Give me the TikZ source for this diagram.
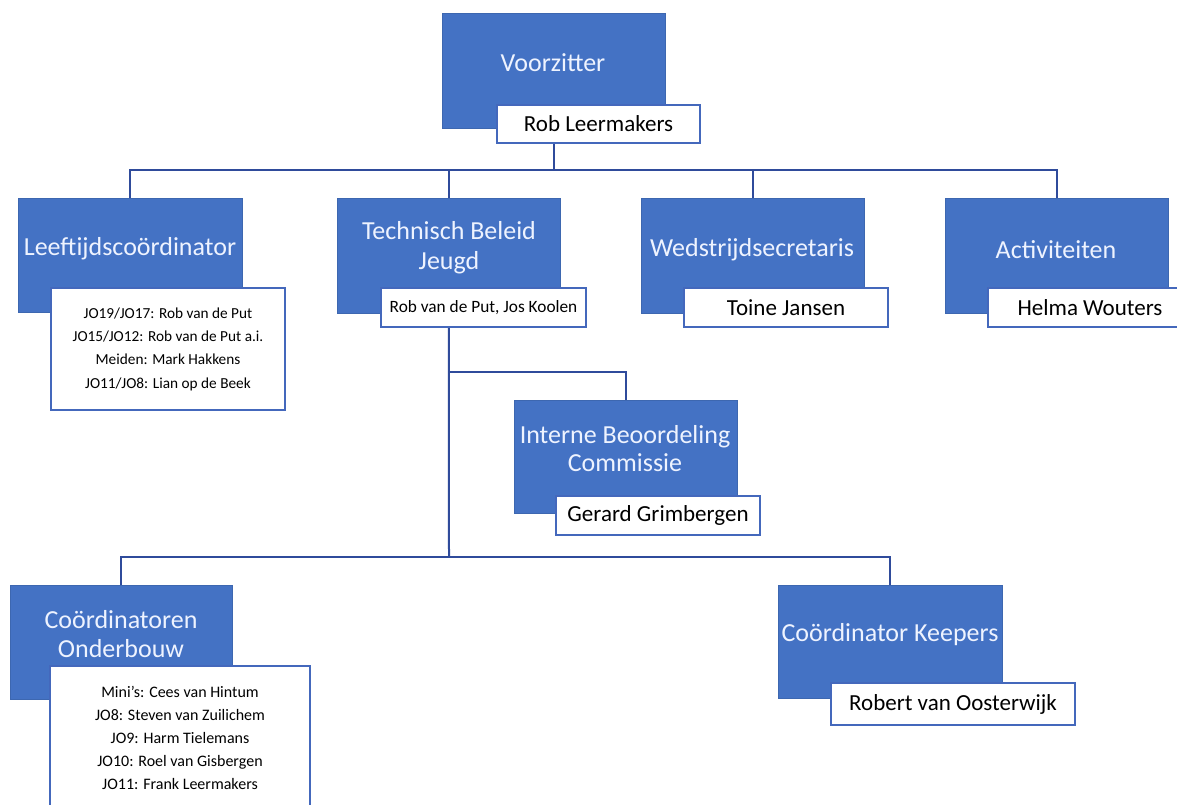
\documentclass[tikz,border=0pt]{standalone}
\usepackage{fontspec}
\setmainfont{Carlito}
\usetikzlibrary{backgrounds}
\definecolor{boxblue}{HTML}{4472C4}
\definecolor{linkblue}{HTML}{2F4B9B}
\definecolor{nameborder}{HTML}{4468BC}
\definecolor{roletxt}{HTML}{EEF3FF}
\begin{document}
\begin{tikzpicture}[x=1pt,y=-1pt,
  role/.style={fill=boxblue, draw=boxblue!90!black, line width=0.6pt, inner sep=0pt, anchor=north west},
  roletext/.style={text=roletxt, font=\fontsize{26}{30}\selectfont, align=center, inner sep=0pt},
  namebox/.style={fill=white, draw=nameborder, line width=1.6pt, inner sep=0pt, font=\fontsize{23}{27}\selectfont, align=center},
  conn/.style={draw=linkblue, line width=2pt}]
\useasboundingbox (0,0) rectangle (1177,805);
\clip (0,0) rectangle (1177,805);

% role boxes
\node[role, minimum width=223pt, minimum height=115pt] (voor)  at (442,13)  {};
\node[role, minimum width=224pt, minimum height=114pt] (leef)  at (18,198)  {};
\node[role, minimum width=223pt, minimum height=115pt] (tech)  at (337,198) {};
\node[role, minimum width=223pt, minimum height=115pt] (wed)   at (641,198) {};
\node[role, minimum width=223pt, minimum height=115pt] (act)   at (945,198) {};
\node[role, minimum width=223pt, minimum height=113pt] (int)   at (514,400) {};
\node[role, minimum width=222pt, minimum height=114pt] (coord) at (10,585)  {};
\node[role, minimum width=224pt, minimum height=113pt] (keep)  at (778,585) {};

% role texts
\node[roletext] (voorT)  at (553,63)  {Voorzitter};
\node[roletext] (leefT)  at (130,249) {Leeftijdscoördinator};
\node[roletext] (techT)  at (449,248) {Technisch Beleid\\Jeugd};
\node[roletext] (wedT)   at (752,250) {Wedstrijdsecretaris};
\node[roletext] (actT)   at (1056,250) {Activiteiten};
\node[roletext, font=\fontsize{26}{28}\selectfont] (intT) at (625,449) {Interne Beoordeling\\Commissie};
\node[roletext, font=\fontsize{26}{28.5}\selectfont] (coordT) at (121,634) {Coördinatoren\\Onderbouw};
\node[roletext] (keepT)  at (890,635) {Coördinator Keepers};

% name boxes
\node[namebox, minimum width=203pt, minimum height=38pt] (voorN) at (598.5,124) {Rob Leermakers};
\node[namebox, minimum width=234pt, minimum height=122pt, font=\fontsize{15.3}{23.3}\selectfont] (leefN) at (168,349)
  {JO19/JO17: Rob van de Put\\JO15/JO12: Rob van de Put a.i.\\Meiden: Mark Hakkens\\JO11/JO8: Lian op de Beek};
\node[namebox, minimum width=205pt, minimum height=39pt, font=\fontsize{17.3}{20}\selectfont] (techN) at (483.5,307.5) {Rob van de Put, Jos Koolen};
\node[namebox, minimum width=204pt, minimum height=39pt] (wedN)  at (786,307.5) {Toine Jansen};
\node[namebox, minimum width=204pt, minimum height=39pt] (actN)  at (1090,307.5) {Helma Wouters};
\node[namebox, minimum width=204pt, minimum height=39pt] (intN)  at (658,515.5) {Gerard Grimbergen};
\node[namebox, minimum width=260pt, minimum height=143pt, font=\fontsize{16}{23}\selectfont] (coordN) at (180,737.5)
  {Mini’s: Cees van Hintum\\JO8: Steven van Zuilichem\\JO9: Harm Tielemans\\JO10: Roel van Gisbergen\\JO11: Frank Leermakers};
\node[namebox, minimum width=244pt, minimum height=42pt] (keepN) at (953,704) {Robert van Oosterwijk};

% connectors
\begin{scope}[on background layer]
\coordinate (busA) at (553,170);
\coordinate (busB) at (449,372);
\coordinate (busC) at (449,557);
\draw[conn] (voorN.south -| voor.south) -- (voor.south |- busA);
\draw[conn] (leef.north) -- (leef.north |- busA) -- (act.north |- busA) -- (act.north);
\draw[conn] (tech.north) -- (tech.north |- busA);
\draw[conn] (wed.north) -- (wed.north |- busA);
\draw[conn] (techN.south -| tech.south) -- (busC);
\draw[conn] (busB) -| (int.north);
\draw[conn] (coord.north) -- (coord.north |- busC) -- (keep.north |- busC) -- (keep.north);
\end{scope}
\end{tikzpicture}
\end{document}
